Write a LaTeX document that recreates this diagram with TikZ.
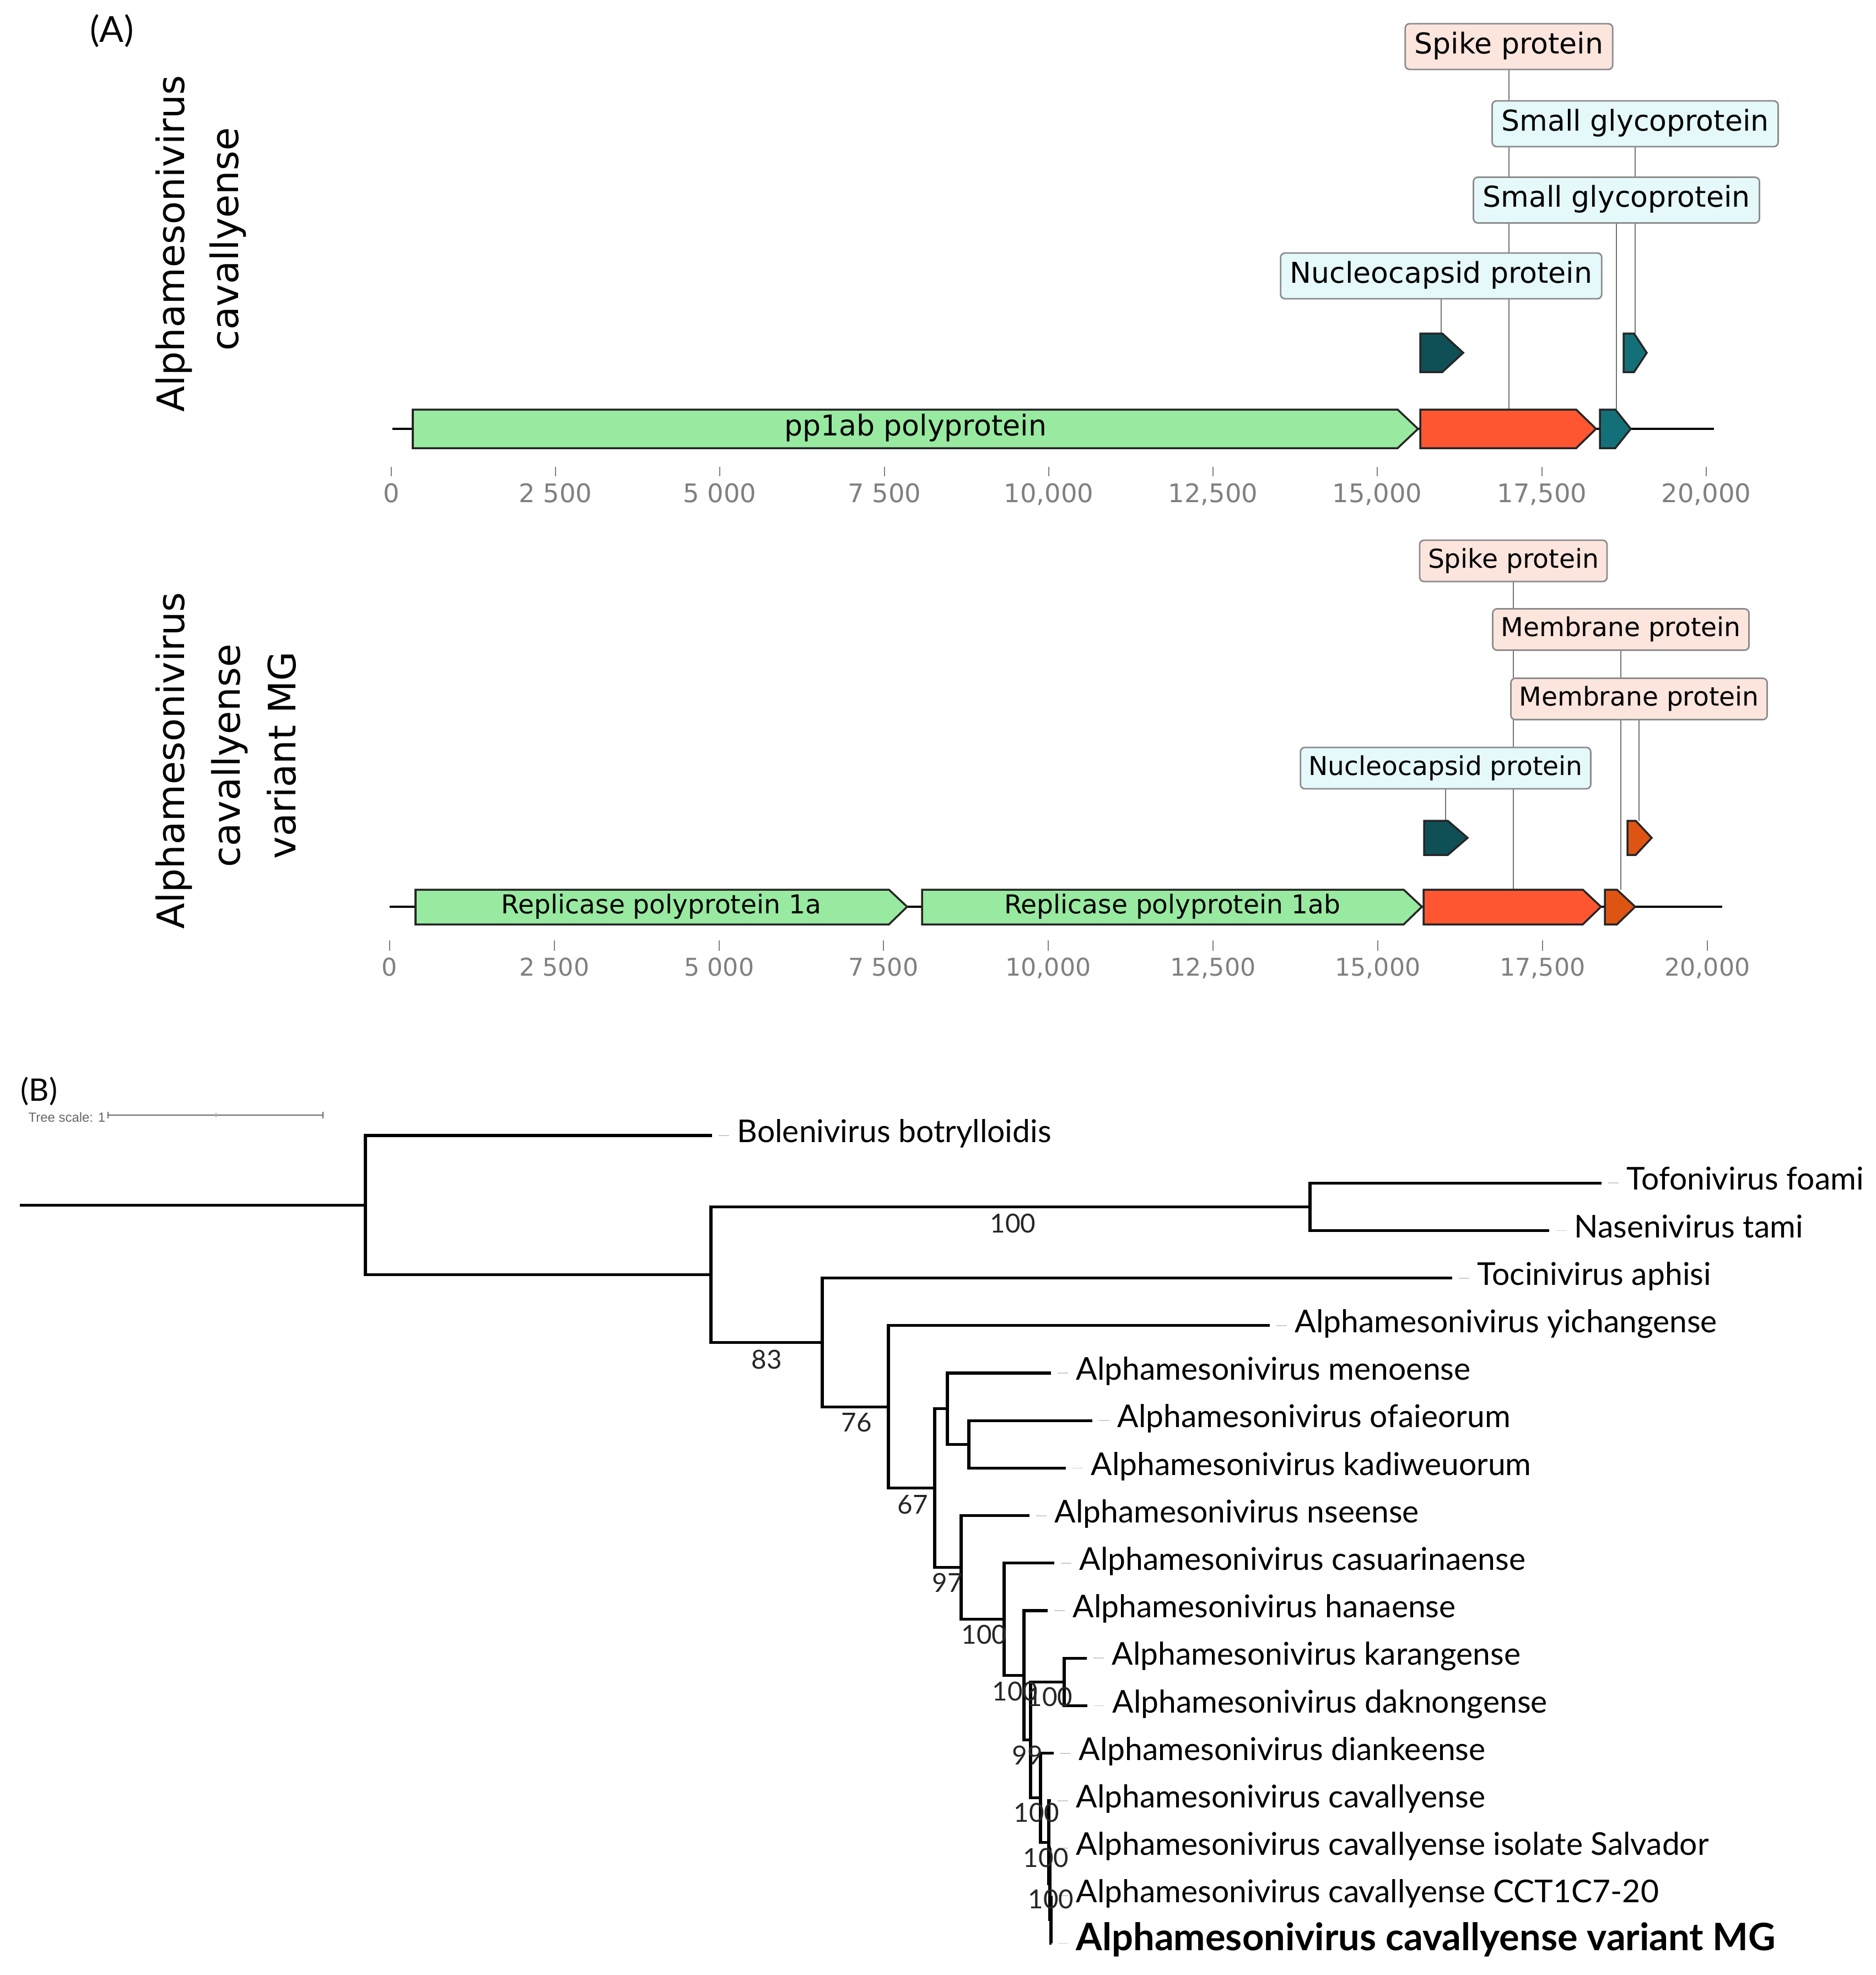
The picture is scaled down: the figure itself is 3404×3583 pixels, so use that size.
\documentclass[tikz,border=0pt]{standalone}
\usepackage{fontspec}
\setmainfont{Lato}
\newfontfamily\dejavu{DejaVu Sans}
\newfontfamily\libsans{Liberation Sans}
\usetikzlibrary{backgrounds}
\definecolor{genegreen}{RGB}{152,234,160}
\definecolor{genered}{RGB}{255,86,50}
\definecolor{geneteal}{RGB}{14,80,86}
\definecolor{genecyan}{RGB}{20,112,120}
\definecolor{geneorange}{RGB}{222,84,18}
\definecolor{boxpink}{RGB}{252,229,221}
\definecolor{boxcyan}{RGB}{229,249,251}
\definecolor{boxline}{RGB}{140,140,140}
\definecolor{axisgray}{RGB}{128,128,128}
\begin{document}
\begin{tikzpicture}
	[x=0.01cm,y=-0.01cm,
	gene/.style={draw=black!85,line width=1pt,line join=miter},
	lab/.style={draw=boxline,line width=0.8pt,rounded corners=0.08cm,inner xsep=0.17cm,inner ysep=0pt,minimum height=0.83cm,text height=0.73em,text depth=0pt,font=\dejavu\fontsize{14.8}{17}\selectfont},
	labb/.style={lab,minimum height=0.75cm,inner xsep=0.15cm,font=\dejavu\fontsize{13.4}{16}\selectfont},
	genetxt/.style={inner sep=0pt,text height=0.73em,text depth=0pt,font=\dejavu\fontsize{14.8}{17}\selectfont},
	lead/.style={draw=black!55,line width=0.6pt},
	spine/.style={draw=black,line width=1.4pt},
	tick/.style={draw=axisgray,line width=0.8pt},
	num/.style={text=axisgray,inner sep=0pt,text height=0.73em,text depth=0pt,font=\dejavu\fontsize{13.2}{15}\selectfont},
	ylab/.style={rotate=90,anchor=base,inner sep=0pt,font=\dejavu\fontsize{19.5}{23}\selectfont},
	branch/.style={draw=black,line width=1.45pt,line join=miter},
	leaf/.style={anchor=west,inner sep=0pt,text height=0.72em,text depth=0pt,font=\fontsize{16.2}{19}\selectfont},
	boot/.style={inner sep=0pt,text height=0.72em,text depth=0pt,text=black!85,font=\fontsize{13.5}{16}\selectfont},
	tipdash/.style={draw=black!20,line width=0.5pt}]
	\useasboundingbox (0,0) rectangle (3404,3583);
	\begin{scope}[on background layer]
		\fill[white] (0,0) rectangle (3404,3583);
	\end{scope}
	% panel A, first genome
	\node[inner sep=0pt,text height=0.72em,text depth=0pt,font=\fontsize{18.5}{22}\selectfont,name=pa] at (203,64) {(A)};
	\node[ylab,name=ya1] at (334,442) {Alphamesonivirus};
	\node[ylab,name=ya2] at (432,434) {cavallyense};
	\coordinate (g1l) at (712,778);
	\coordinate (g1r) at (3110,778);
	\draw[spine] (g1l) -- (g1r);
	\draw[gene,fill=genegreen] (749,743) -- (2536,743) -- (2573,778) -- (2536,813) -- (749,813) -- cycle;
	\draw[gene,fill=genered] (2577,743) -- (2860,743) -- (2896,778) -- (2860,813) -- (2577,813) -- cycle;
	\draw[gene,fill=genecyan] (2903,743) -- (2931,743) -- (2959,778) -- (2931,813) -- (2903,813) -- cycle;
	\draw[gene,fill=geneteal] (2577,605) -- (2617,605) -- (2655,640) -- (2617,675) -- (2577,675) -- cycle;
	\draw[gene,fill=genecyan] (2946,605) -- (2965,605) -- (2988,640) -- (2965,675) -- (2946,675) -- cycle;
	\node[genetxt,name=pp1] at (1661,778) {pp1ab polyprotein};
	\node[lab,fill=boxpink,name=sp1] at (2738,84.5) {Spike protein};
	\node[lab,fill=boxcyan,name=sg1] at (2967,224.5) {Small glycoprotein};
	\node[lab,fill=boxcyan,name=sg2] at (2933,363) {Small glycoprotein};
	\node[lab,fill=boxcyan,name=nc1] at (2615,500.5) {Nucleocapsid protein};
	\coordinate (sp1e) at (2738,743);
	\coordinate (sg1e) at (2967,605);
	\coordinate (sg2e) at (2933,743);
	\coordinate (nc1e) at (2615,605);
	% axis of the first genome
	\draw[tick] (710,847) -- (710,864);
	\draw[tick] (1008,847) -- (1008,864);
	\draw[tick] (1306,847) -- (1306,864);
	\draw[tick] (1605,847) -- (1605,864);
	\draw[tick] (1903,847) -- (1903,864);
	\draw[tick] (2201,847) -- (2201,864);
	\draw[tick] (2499,847) -- (2499,864);
	\draw[tick] (2798,847) -- (2798,864);
	\draw[tick] (3096,847) -- (3096,864);
	\node[num,name=a10] at (710,899) {0};
	\node[num,name=a11] at (1008,899) {2 500};
	\node[num,name=a12] at (1306,899) {5 000};
	\node[num,name=a13] at (1605,899) {7 500};
	\node[num,name=a14] at (1903,899) {10,000};
	\node[num,name=a15] at (2201,899) {12,500};
	\node[num,name=a16] at (2499,899) {15,000};
	\node[num,name=a17] at (2798,899) {17,500};
	\node[num,name=a18] at (3096,899) {20,000};
	% panel A, second genome
	\node[ylab,name=yb1] at (334,1380) {Alphamesonivirus};
	\node[ylab,name=yb2] at (435,1371) {cavallyense};
	\node[ylab,name=yb3] at (536,1370) {variant MG};
	\coordinate (g2l) at (707,1645);
	\coordinate (g2r) at (3125,1645);
	\draw[spine] (g2l) -- (g2r);
	\draw[gene,fill=genegreen] (754,1614) -- (1613,1614) -- (1646,1645) -- (1613,1677) -- (754,1677) -- cycle;
	\draw[gene,fill=genegreen] (1673,1614) -- (2547,1614) -- (2580,1645) -- (2547,1677) -- (1673,1677) -- cycle;
	\draw[gene,fill=genered] (2583,1614) -- (2872,1614) -- (2905,1645) -- (2872,1677) -- (2583,1677) -- cycle;
	\draw[gene,fill=geneorange] (2912,1614) -- (2934,1614) -- (2967,1645) -- (2934,1677) -- (2912,1677) -- cycle;
	\draw[gene,fill=geneteal] (2584,1489) -- (2627,1489) -- (2663,1520) -- (2627,1551) -- (2584,1551) -- cycle;
	\draw[gene,fill=geneorange] (2953,1489) -- (2968,1489) -- (2997,1520) -- (2968,1551) -- (2953,1551) -- cycle;
	\node[genetxt,font=\dejavu\fontsize{13.4}{16}\selectfont,name=rp1] at (1200,1645) {Replicase polyprotein 1a};
	\node[genetxt,font=\dejavu\fontsize{13.4}{16}\selectfont,name=rp2] at (2127,1645) {Replicase polyprotein 1ab};
	\node[labb,fill=boxpink,name=sp2] at (2746,1017.5) {Spike protein};
	\node[labb,fill=boxpink,name=mb1] at (2941,1142) {Membrane protein};
	\node[labb,fill=boxpink,name=mb2] at (2974,1268) {Membrane protein};
	\node[labb,fill=boxcyan,name=nc2] at (2623,1393.5) {Nucleocapsid protein};
	\coordinate (sp2e) at (2746,1614);
	\coordinate (mb1e) at (2941,1614);
	\coordinate (mb2e) at (2974,1489);
	\coordinate (nc2e) at (2623,1489);
	% axis of the second genome
	\draw[tick] (707,1706) -- (707,1725);
	\draw[tick] (1006,1706) -- (1006,1725);
	\draw[tick] (1305,1706) -- (1305,1725);
	\draw[tick] (1603,1706) -- (1603,1725);
	\draw[tick] (1902,1706) -- (1902,1725);
	\draw[tick] (2201,1706) -- (2201,1725);
	\draw[tick] (2500,1706) -- (2500,1725);
	\draw[tick] (2799,1706) -- (2799,1725);
	\draw[tick] (3098,1706) -- (3098,1725);
	\node[num,font=\dejavu\fontsize{12.6}{15}\selectfont,name=b10] at (707,1758) {0};
	\node[num,font=\dejavu\fontsize{12.6}{15}\selectfont,name=b11] at (1006,1758) {2 500};
	\node[num,font=\dejavu\fontsize{12.6}{15}\selectfont,name=b12] at (1305,1758) {5 000};
	\node[num,font=\dejavu\fontsize{12.6}{15}\selectfont,name=b13] at (1603,1758) {7 500};
	\node[num,font=\dejavu\fontsize{12.6}{15}\selectfont,name=b14] at (1902,1758) {10,000};
	\node[num,font=\dejavu\fontsize{12.6}{15}\selectfont,name=b15] at (2201,1758) {12,500};
	\node[num,font=\dejavu\fontsize{12.6}{15}\selectfont,name=b16] at (2500,1758) {15,000};
	\node[num,font=\dejavu\fontsize{12.6}{15}\selectfont,name=b17] at (2799,1758) {17,500};
	\node[num,font=\dejavu\fontsize{12.6}{15}\selectfont,name=b18] at (3098,1758) {20,000};
	% leader lines behind the boxes
	\begin{scope}[on background layer]
		\draw[lead] (sp1.south) -- (sp1e);
		\draw[lead] (sg1.south) -- (sg1e);
		\draw[lead] (sg2.south) -- (sg2e);
		\draw[lead] (nc1.south) -- (nc1e);
		\draw[lead] (sp2.south) -- (sp2e);
		\draw[lead] (mb1.south) -- (mb1e);
		\draw[lead] (mb2.south) -- (mb2e);
		\draw[lead] (nc2.south) -- (nc2e);
	\end{scope}
	% panel B, tree
	\node[inner sep=0pt,text height=0.72em,text depth=0pt,font=\fontsize{16}{19}\selectfont,name=pb] at (71,1985) {(B)};
	\node[anchor=east,inner sep=0pt,text height=0.72em,text depth=0pt,text=black!60,font=\libsans\fontsize{6.8}{8}\selectfont,name=tsc] at (192,2023) {Tree scale: 1};
	\coordinate (sb0) at (196,2023);
	\coordinate (sbm) at (392,2023);
	\coordinate (sb1) at (586,2023);
	\draw[draw=black!60,line width=0.6pt] (sb0) -- (sb1);
	\draw[draw=black!60,line width=0.6pt] ([yshift=0.06cm]sb0) -- ([yshift=-0.06cm]sb0);
	\draw[draw=black!30,line width=0.5pt] ([yshift=0.04cm]sbm) -- ([yshift=-0.04cm]sbm);
	\draw[draw=black!60,line width=0.6pt] ([yshift=0.06cm]sb1) -- ([yshift=-0.06cm]sb1);
	\coordinate (r0) at (36,2186.2);
	\coordinate (n1) at (663,2186.2);
	\coordinate (n2) at (1290,2312.35);
	\coordinate (n3) at (2377,2189.3);
	\coordinate (n4) at (1492,2435.4);
	\coordinate (n5) at (1612,2552.2);
	\coordinate (n6) at (1696,2699.6);
	\coordinate (n7) at (1719,2555.65);
	\coordinate (n8) at (1758,2620.3);
	\coordinate (n9) at (1744,2843.55);
	\coordinate (n10) at (1822,2937.5);
	\coordinate (n11) at (1858,3039.2);
	\coordinate (n12) at (1870,3156.35);
	\coordinate (n13) at (1931,3051.3);
	\coordinate (n14) at (1888,3261.4);
	\coordinate (n15) at (1903,3342.2);
	\coordinate (n16) at (1905,3417.65);
	\coordinate (n17) at (1907,3482.3);
	\coordinate (t0) at (1292,2060);
	\coordinate (t1) at (2906,2146.2);
	\coordinate (t2) at (2811,2232.4);
	\coordinate (t3) at (2635,2318.6);
	\coordinate (t4) at (2304,2404.8);
	\coordinate (t5) at (1907,2491);
	\coordinate (t6) at (1982,2577.2);
	\coordinate (t7) at (1934,2663.4);
	\coordinate (t8) at (1868,2749.6);
	\coordinate (t9) at (1913,2835.8);
	\coordinate (t10) at (1901,2922);
	\coordinate (t11) at (1972,3008.2);
	\coordinate (t12) at (1973,3094.4);
	\coordinate (t13) at (1912,3180.6);
	\coordinate (t14) at (1907,3266.8);
	\coordinate (t15) at (1907,3353);
	\coordinate (t16) at (1908,3439.2);
	\coordinate (t17) at (1908,3525.4);
	\draw[branch] (r0) -- (n1);
	\draw[branch] (n1) |- (t0);
	\draw[branch] (n1) |- (n2);
	\draw[branch] (n2) |- (n3);
	\draw[branch] (n2) |- (n4);
	\draw[branch] (n3) |- (t1);
	\draw[branch] (n3) |- (t2);
	\draw[branch] (n4) |- (t3);
	\draw[branch] (n4) |- (n5);
	\draw[branch] (n5) |- (t4);
	\draw[branch] (n5) |- (n6);
	\draw[branch] (n6) |- (n7);
	\draw[branch] (n6) |- (n9);
	\draw[branch] (n7) |- (t5);
	\draw[branch] (n7) |- (n8);
	\draw[branch] (n8) |- (t6);
	\draw[branch] (n8) |- (t7);
	\draw[branch] (n9) |- (t8);
	\draw[branch] (n9) |- (n10);
	\draw[branch] (n10) |- (t9);
	\draw[branch] (n10) |- (n11);
	\draw[branch] (n11) |- (t10);
	\draw[branch] (n11) |- (n12);
	\draw[branch] (n12) |- (n13);
	\draw[branch] (n12) |- (n14);
	\draw[branch] (n13) |- (t11);
	\draw[branch] (n13) |- (t12);
	\draw[branch] (n14) |- (t13);
	\draw[branch] (n14) |- (n15);
	\draw[branch] (n15) |- (t14);
	\draw[branch] (n15) |- (n16);
	\draw[branch] (n16) |- (t15);
	\draw[branch] (n16) |- (n17);
	\draw[branch] (n17) |- (t16);
	\draw[branch] (n17) |- (t17);
	\node[leaf,name=bol] at (1337,2060) {Bolenivirus botrylloidis};
	\node[leaf,name=tof] at (2951,2146.2) {Tofonivirus foami};
	\node[leaf,name=nas] at (2856,2232.4) {Nasenivirus tami};
	\node[leaf,name=toc] at (2680,2318.6) {Tocinivirus aphisi};
	\node[leaf,name=yic] at (2349,2404.8) {Alphamesonivirus yichangense};
	\node[leaf,name=men] at (1952,2491) {Alphamesonivirus menoense};
	\node[leaf,name=ofa] at (2027,2577.2) {Alphamesonivirus ofaieorum};
	\node[leaf,name=kad] at (1979,2663.4) {Alphamesonivirus kadiweuorum};
	\node[leaf,name=nse] at (1913,2749.6) {Alphamesonivirus nseense};
	\node[leaf,name=cas] at (1958,2835.8) {Alphamesonivirus casuarinaense};
	\node[leaf,name=han] at (1946,2922) {Alphamesonivirus hanaense};
	\node[leaf,name=kar] at (2017,3008.2) {Alphamesonivirus karangense};
	\node[leaf,name=dak] at (2018,3094.4) {Alphamesonivirus daknongense};
	\node[leaf,name=dia] at (1957,3180.6) {Alphamesonivirus diankeense};
	\node[leaf,name=cav] at (1952,3266.8) {Alphamesonivirus cavallyense};
	\node[leaf,name=sal] at (1952,3353) {Alphamesonivirus cavallyense isolate Salvador};
	\node[leaf,name=cct] at (1952,3439.2) {Alphamesonivirus cavallyense CCT1C7-20};
	\node[leaf,font=\bfseries\fontsize{19.5}{23}\selectfont,name=vmg] at (1952,3525.4) {Alphamesonivirus cavallyense variant MG};
	\draw[tipdash] ([xshift=0.12cm]t0) -- ([xshift=-0.14cm]bol.west);
	\draw[tipdash] ([xshift=0.12cm]t1) -- ([xshift=-0.14cm]tof.west);
	\draw[tipdash] ([xshift=0.12cm]t2) -- ([xshift=-0.14cm]nas.west);
	\draw[tipdash] ([xshift=0.12cm]t3) -- ([xshift=-0.14cm]toc.west);
	\draw[tipdash] ([xshift=0.12cm]t4) -- ([xshift=-0.14cm]yic.west);
	\draw[tipdash] ([xshift=0.12cm]t5) -- ([xshift=-0.14cm]men.west);
	\draw[tipdash] ([xshift=0.12cm]t6) -- ([xshift=-0.14cm]ofa.west);
	\draw[tipdash] ([xshift=0.12cm]t7) -- ([xshift=-0.14cm]kad.west);
	\draw[tipdash] ([xshift=0.12cm]t8) -- ([xshift=-0.14cm]nse.west);
	\draw[tipdash] ([xshift=0.12cm]t9) -- ([xshift=-0.14cm]cas.west);
	\draw[tipdash] ([xshift=0.12cm]t10) -- ([xshift=-0.14cm]han.west);
	\draw[tipdash] ([xshift=0.12cm]t11) -- ([xshift=-0.14cm]kar.west);
	\draw[tipdash] ([xshift=0.12cm]t12) -- ([xshift=-0.14cm]dak.west);
	\draw[tipdash] ([xshift=0.12cm]t13) -- ([xshift=-0.14cm]dia.west);
	\draw[tipdash] ([xshift=0.12cm]t14) -- ([xshift=-0.14cm]cav.west);
	\draw[tipdash] ([xshift=0.12cm]t15) -- ([xshift=-0.14cm]sal.west);
	\draw[tipdash] ([xshift=0.12cm]t16) -- ([xshift=-0.14cm]cct.west);
	\draw[tipdash] ([xshift=0.12cm]t17) -- ([xshift=-0.14cm]vmg.west);
	% support values
	\node[boot,name=bs1] at (1838,2224) {100};
	\node[boot,name=bs2] at (1391,2471) {83};
	\node[boot,name=bs3] at (1554,2585) {76};
	\node[boot,name=bs4] at (1656,2734) {67};
	\node[boot,name=bs5] at (1719,2876) {97};
	\node[boot,name=bs6] at (1786,2970) {100};
	\node[boot,name=bs7] at (1842,3073) {100};
	\node[boot,name=bs8] at (1905,3083) {100};
	\node[boot,name=bs9] at (1864,3189) {99};
	\node[boot,name=bs10] at (1881,3293) {100};
	\node[boot,name=bs11] at (1898,3375) {100};
	\node[boot,name=bs12] at (1907,3450) {100};
\end{tikzpicture}
\end{document}
